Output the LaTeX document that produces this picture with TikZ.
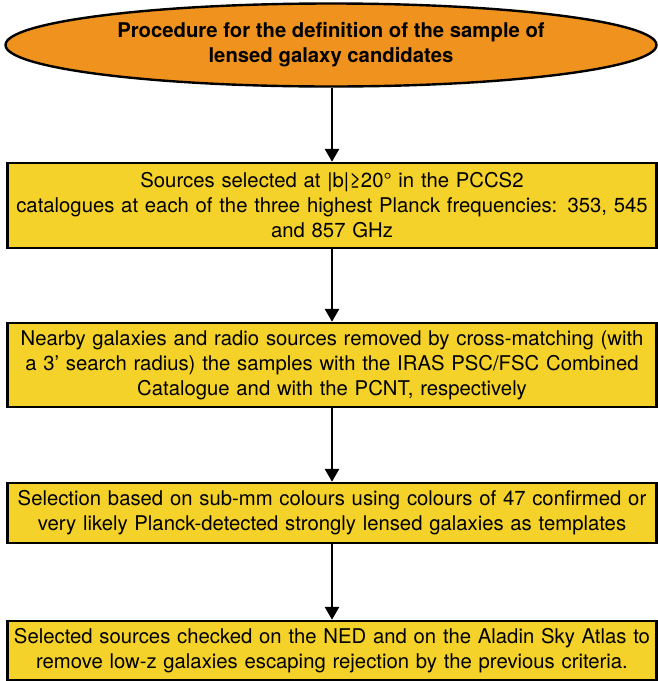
\documentclass[tikz,border=0pt]{standalone}
\usepackage{fontspec}
\setmainfont{TeX Gyre Heros}
\usetikzlibrary{shapes.geometric, arrows.meta}

\definecolor{procorange}{RGB}{240,146,30}
\definecolor{procyellow}{RGB}{244,210,42}

\tikzset{
  stepbox/.style={draw, line width=2.4pt, fill=procyellow, minimum width=649pt,
    text width=648pt, align=center, inner sep=0pt, font=\fontsize{20.3}{25}\selectfont},
  flow/.style={-{Triangle[length=13pt,width=14pt]}, line width=2.6pt}
}

\begin{document}
\begin{tikzpicture}[x=1pt, y=-1pt]
        \useasboundingbox (0,0) rectangle (657,681);
        \node[ellipse, draw, line width=2.4pt, fill=procorange, minimum width=651pt, minimum height=83pt,
              inner sep=0pt, align=center, font=\bfseries\fontsize{20.3}{25}\selectfont]
              (title) at (331,45) {Procedure for the definition of the sample of\\lensed galaxy candidates};
        \node[stepbox, minimum height=85pt] (sel) at (332,205.5)
              {Sources selected at |b|≥20° in the PCCS2\\catalogues at each of the three highest Planck frequencies: 353, 545\\and 857 GHz};
        \node[stepbox, minimum height=84pt] (xmatch) at (332,365)
              {Nearby galaxies and radio sources removed by cross-matching (with\\a 3’ search radius) the samples with the IRAS PSC/FSC Combined\\Catalogue and with the PCNT, respectively};
        \node[stepbox, minimum height=60pt] (colour) at (332,513)
              {Selection based on sub-mm colours using colours of 47 confirmed or\\very likely Planck-detected strongly lensed galaxies as templates};
        \node[stepbox, minimum height=59pt] (ned) at (332,650.5)
              {Selected sources checked on the NED and on the Aladin Sky Atlas to\\remove low-z galaxies escaping rejection by the previous criteria.};
        \draw[flow] (title.south -| sel.north) -- (sel.north);
        \draw[flow] (sel.south) -- (xmatch.north);
        \draw[flow] (xmatch.south) -- (colour.north);
        \draw[flow] (colour.south) -- (ned.north);
    \end{tikzpicture}
\end{document}
